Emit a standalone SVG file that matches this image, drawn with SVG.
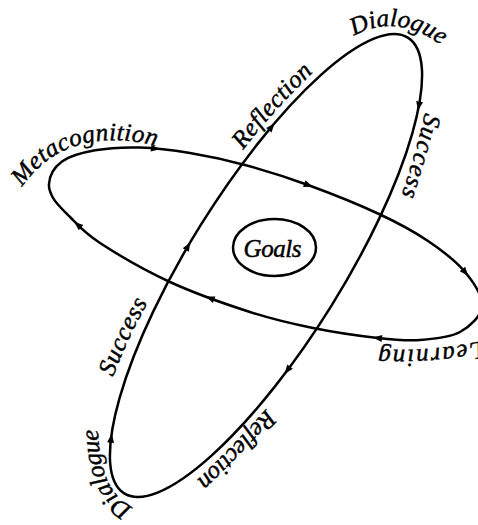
<svg xmlns="http://www.w3.org/2000/svg" width="478" height="525" viewBox="0 0 478 525">
<style>
.loop{fill:none;stroke:#000;stroke-width:2.5}
.lbl{font-family:"Liberation Serif","Times New Roman",serif;font-style:italic;font-size:25px;fill:#000;stroke:#000;stroke-width:0.45}
.ah{fill:#000}
</style>
<defs>
<path id="ah" d="M5,0 L-4,-3.5 L-4,3.5 Z"/>
<path id="p-meta" d="M22,187 C38,165 60,145 100,141 C120,139 140,141 158,147"/>
<path id="p-refl1" d="M243,150 Q276,107 323,63"/>
<path id="p-dia1" d="M354,36 Q397,12 442,46"/>
<path id="p-succ1" d="M425,113 Q416,152 401,197"/>
<path id="p-learn" d="M482,341 Q430,352 377,349"/>
<path id="p-refl2" d="M266,409 Q232,447 195,482"/>
<path id="p-dia2" d="M133,507 Q99,492 98,428"/>
<path id="p-succ2" d="M113,377 Q128,338 148,302"/>
</defs>
<rect width="478" height="525" fill="#fff"/>
<g id="connectors">
<path id="loop-horizontal" class="loop" d="M49,184 C49.5,175 54.42,167.12 62,161.5 C69.58,155.88 82,152.63 95,150.3 C108,147.97 124.17,147.05 140,147.5 C155.83,147.95 172.5,150.08 190,153 C207.5,155.92 225.33,159.67 245,165 C264.67,170.33 285.67,176.83 308,185 C330.33,193.17 359,204.67 379,214 C399,223.33 413.67,231.33 428,241 C442.33,250.67 456,261.17 465,272 C474,282.83 482.83,296 482,306 C481.17,316 470.33,326.33 460,332 C449.67,337.67 433.67,339 420,340 C406.33,341 395.83,340 378,338 C360.17,336 334.33,332.33 313,328 C291.67,323.67 273.83,319.67 250,312 C226.17,304.33 195,293.5 170,282 C145,270.5 116.67,253.83 100,243 C83.33,232.17 77.83,224.67 70,217 C62.17,209.33 55.5,203 52.5,197 C50,192 48.5,189 49,184 Z"/>
<ellipse id="loop-diagonal" class="loop" cx="266" cy="265.5" rx="268.4" ry="76.8" transform="rotate(-58.1 266 265.5)"/>
<use href="#ah" class="ah" transform="translate(155,148.6) rotate(7)"/>
<use href="#ah" class="ah" transform="translate(308,185) rotate(20)"/>
<use href="#ah" class="ah" transform="translate(465,272) rotate(50)"/>
<use href="#ah" class="ah" transform="translate(378,338) rotate(186)"/>
<use href="#ah" class="ah" transform="translate(210.4,298.4) rotate(201)"/>
<use href="#ah" class="ah" transform="translate(78,225) rotate(221)"/>
<use href="#ah" class="ah" transform="translate(271.4,127.1) rotate(-50)"/>
<use href="#ah" class="ah" transform="translate(418.9,105.5) rotate(100.5)"/>
<use href="#ah" class="ah" transform="translate(287.6,369.9) rotate(126.8)"/>
<use href="#ah" class="ah" transform="translate(111.1,438.6) rotate(-83.1)"/>
<use href="#ah" class="ah" transform="translate(187.8,246.5) rotate(-59.7)"/>
</g>
<g id="labels">
<text class="lbl"><textPath href="#p-meta" textLength="150" lengthAdjust="spacing">Metacognition</textPath></text>
<text class="lbl"><textPath href="#p-refl1" textLength="105" lengthAdjust="spacing">Reflection</textPath></text>
<text class="lbl"><textPath href="#p-dia1" textLength="93" lengthAdjust="spacing">Dialogue</textPath></text>
<text class="lbl"><textPath href="#p-succ1" textLength="86" lengthAdjust="spacing">Success</textPath></text>
<text class="lbl"><textPath href="#p-learn" textLength="104" lengthAdjust="spacing">Learning</textPath></text>
<text class="lbl"><textPath href="#p-refl2" textLength="100" lengthAdjust="spacing">Reflection</textPath></text>
<text class="lbl"><textPath href="#p-dia2" textLength="90" lengthAdjust="spacing">Dialogue</textPath></text>
<text class="lbl"><textPath href="#p-succ2" textLength="82" lengthAdjust="spacing">Success</textPath></text>
</g>
<g id="goals">
<ellipse class="loop" cx="274.5" cy="247.5" rx="41.5" ry="28.5"/>
<text class="lbl" x="272.5" y="257" text-anchor="middle" style="font-size:25px" textLength="58" lengthAdjust="spacing">Goals</text>
</g>
</svg>
